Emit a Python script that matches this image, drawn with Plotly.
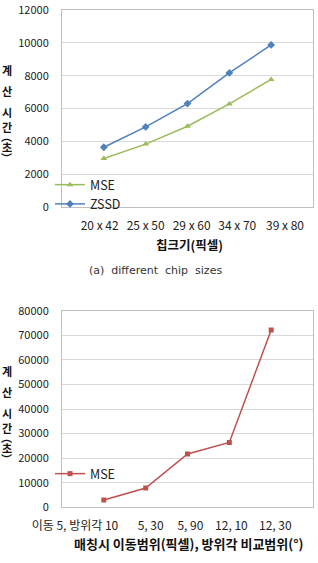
import plotly.graph_objects as go

# Chart (a)
chip_sizes = ["20 x 42", "25 x 50", "29 x 60", "34 x 70", "39 x 80"]
mse_a = [2950, 3830, 4920, 6280, 7770]
zssd_a = [3640, 4880, 6300, 8170, 9870]
y_ticks_a = [0, 2000, 4000, 6000, 8000, 10000, 12000]

# Chart (b)
ranges = ["이동 5, 방위각 10", "5, 30", "5, 90", "12, 10", "12, 30"]
mse_b = [3000, 7850, 21700, 26400, 72100]
y_ticks_b = [0, 10000, 20000, 30000, 40000, 50000, 60000, 70000, 80000]

y_title_chars = ["계", "산", "시", "간", "︵", "초", "︶"]

FONT = "Noto Sans CJK KR"
W, H = 318, 563
idx = list(range(len(chip_sizes)))
# tick label positions
tick_pos_a = [-0.1, 1.0, 2.1, 3.19, 4.33]
tick_pos_b = [-0.69, 1.12, 2.07, 3.05, 4.1]

fig = go.Figure()
fig.add_trace(go.Scatter(x=idx, y=mse_a, name="MSE", mode="lines+markers",
                         line=dict(color="#9BBB59", width=1.5),
                         marker=dict(symbol="triangle-up", size=6, color="#9BBB59"),
                         xaxis="x", yaxis="y", legend="legend"))
fig.add_trace(go.Scatter(x=idx, y=zssd_a, name="ZSSD", mode="lines+markers",
                         line=dict(color="#4F81BD", width=1.5),
                         marker=dict(symbol="diamond", size=6, color="#4F81BD"),
                         xaxis="x", yaxis="y", legend="legend"))
fig.add_trace(go.Scatter(x=idx, y=mse_b, name="MSE", mode="lines+markers",
                         line=dict(color="#C0504D", width=1.5),
                         marker=dict(symbol="square", size=5, color="#C0504D"),
                         xaxis="x2", yaxis="y2", legend="legend2"))

xd = [62 / W, 313 / W]
def py(p):
    return 1 - p / H

axis_common = dict(showline=True, linecolor="#BFBFBF", linewidth=1, mirror=True,
                   ticks="", automargin=False)
tf = dict(family=FONT, size=11, color="#222")
tfx = dict(family=FONT, size=12, color="#222")

fig.update_layout(
    width=W, height=H, margin=dict(l=0, r=0, t=0, b=0, autoexpand=False),
    paper_bgcolor="white", plot_bgcolor="white",
    font=dict(family=FONT, color="#222"),
    xaxis=dict(domain=xd, anchor="y", range=[-1, 5], tickvals=tick_pos_a, ticktext=chip_sizes,
               tickangle=0, showgrid=False, zeroline=False, ticklabelstandoff=8,
               tickfont=tfx, **axis_common),
    yaxis=dict(domain=[py(207), py(10)], anchor="x", range=[0, 12000], tickvals=y_ticks_a,
               tickformat="d", showgrid=True, gridcolor="#D9D9D9", zeroline=False,
               ticklabelstandoff=10, tickfont=tf, **axis_common),
    xaxis2=dict(domain=xd, anchor="y2", range=[-1, 5], tickvals=tick_pos_b,
                ticktext=ranges, tickangle=0, showgrid=False, zeroline=False,
                ticklabelstandoff=7, tickfont=tfx, **axis_common),
    yaxis2=dict(domain=[py(507.3), py(310.7)], anchor="x2", range=[0, 80000],
                tickvals=y_ticks_b, tickformat="d", showgrid=True, gridcolor="#D9D9D9",
                zeroline=False, ticklabelstandoff=10, tickfont=tf, **axis_common),
    legend=dict(x=50 / W, y=py(170), xanchor="left", yanchor="top",
                bgcolor="rgba(0,0,0,0)", font=dict(family=FONT, size=12.5, color="#222"),
                itemwidth=30, tracegroupgap=0),
    legend2=dict(x=50 / W, y=py(459), xanchor="left", yanchor="top",
                 bgcolor="rgba(0,0,0,0)", font=dict(family=FONT, size=12.5, color="#222"),
                 itemwidth=30),
    showlegend=True,
)

char_y_a = [70, 91, 112, 127, 136, 147, 158]
ann = []
for base in (0, 301):
    for ch, yy in zip(y_title_chars, char_y_a):
        ann.append(dict(text="<b>" + ch + "</b>", x=7 / W, y=py(yy + base), xref="paper",
                        yref="paper", showarrow=False, xanchor="center", yanchor="middle",
                        font=dict(family=FONT, size=11, color="#111")))
ann += [
    dict(text="<b>칩크기(픽셀)</b>", x=189 / W, y=py(244), xref="paper", yref="paper",
         showarrow=False, xanchor="center", yanchor="middle",
         font=dict(family=FONT, size=12.5, color="#111")),
    dict(text="(a)  different  chip  sizes", x=155 / W, y=py(270), xref="paper", yref="paper",
         showarrow=False, xanchor="center", yanchor="middle",
         font=dict(family="DejaVu Sans", size=11, color="#333")),
    dict(text="<b>매칭시 이동범위(픽셀), 방위각 비교범위(°)</b>", x=188 / W, y=py(543),
         xref="paper", yref="paper", showarrow=False, xanchor="center", yanchor="middle",
         font=dict(family=FONT, size=13, color="#111")),
]
fig.update_layout(annotations=ann)

fig.write_html("out.html")
